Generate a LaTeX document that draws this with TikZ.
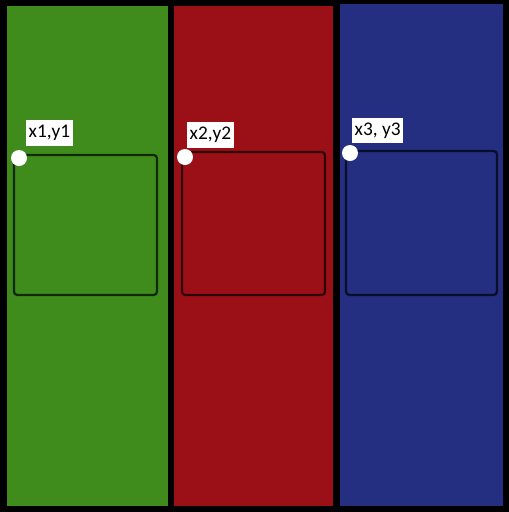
\documentclass[tikz,border=0pt]{standalone}
\usepackage{fontspec}
\setsansfont{Carlito}
\usepackage{tikz}
\usetikzlibrary{positioning}

\definecolor{panelgreen}{RGB}{63,140,29}
\definecolor{panelred}{RGB}{155,16,22}
\definecolor{panelblue}{RGB}{36,47,130}

\tikzset{
  frame/.style={draw=black, draw opacity=0.7, line width=1.7pt, rounded corners=2.5pt},
  corner/.style={circle, fill=white, inner sep=0pt, minimum size=12pt},
  tag/.style={fill=white, inner xsep=1.8pt, inner ysep=3.8pt, anchor=west, font=\sffamily\fontsize{14.5}{16}\selectfont}
}

\begin{document}
\begin{tikzpicture}[x=0.75pt,y=0.75pt,yscale=-1,xscale=1]
%set diagram to the size of the picture, black behind it
\fill[black] (0,0) rectangle (509,512);
\useasboundingbox (0,0) rectangle (509,512);

%Shape: Rectangle [green panel]
\fill[panelgreen] (7,6) rectangle (168,506);
%Shape: Rectangle [red panel]
\fill[panelred] (174,6) rectangle (333,506);
%Shape: Rectangle [blue panel]
\fill[panelblue] (340,4) rectangle (503,506);

%Shape: Rectangle [frames]
\draw[frame] (14,155) rectangle (157,295);
\draw[frame] (182,152) rectangle (325,295);
\draw[frame] (346,151) rectangle (497,295);

%Shape: Circle
\node[corner] (c1) at (19,158) {};
\node[corner] (c2) at (185,157) {};
\node[corner] (c3) at (350,153) {};

% Text Node
\node[tag] (t1) at (26,133) {x1,y1};
% Text Node
\node[tag] (t2) at (187,135) {x2,y2};
% Text Node
\node[tag] (t3) at (352,130.5) {x3, y3};

\end{tikzpicture}
\end{document}
